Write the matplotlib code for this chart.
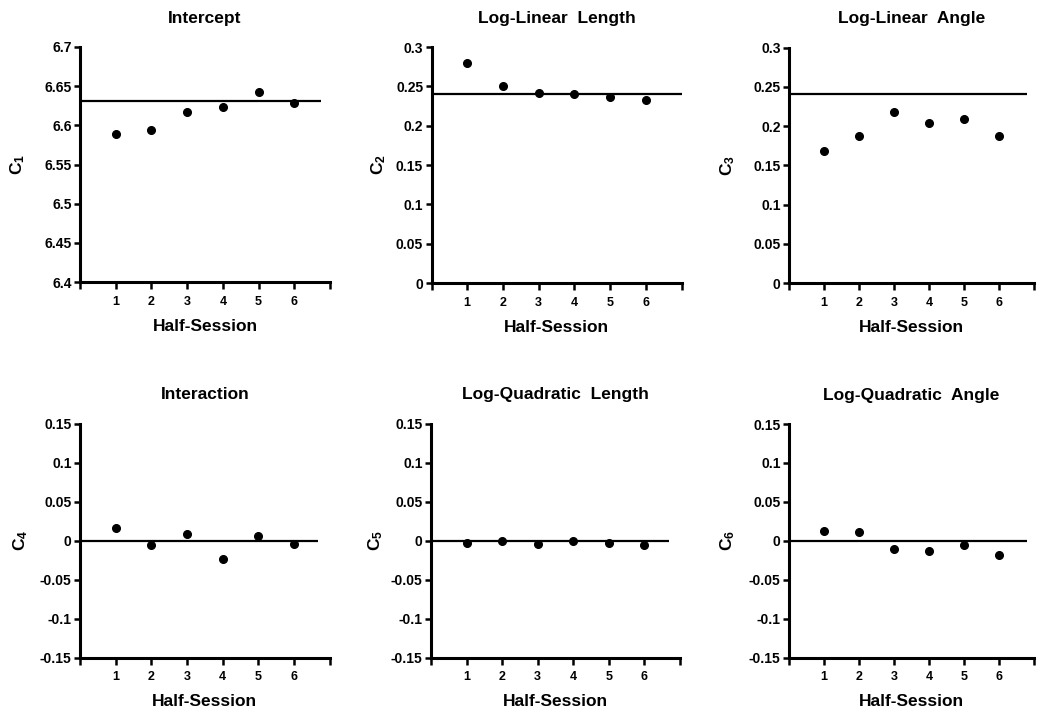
import matplotlib
matplotlib.use("Agg")
import matplotlib.pyplot as plt
from matplotlib.ticker import FuncFormatter, FixedLocator

plt.rcParams["font.family"] = ["Liberation Sans", "DejaVu Sans"]
plt.rcParams["font.weight"] = "bold"
plt.rcParams["mathtext.fontset"] = "custom"
plt.rcParams["mathtext.rm"] = "Liberation Sans:bold"
plt.rcParams["mathtext.it"] = "Liberation Sans:bold"
plt.rcParams["mathtext.bf"] = "Liberation Sans:bold"

half_session = [1, 2, 3, 4, 5, 6]

titles = ["Intercept", "Log-Linear  Length", "Log-Linear  Angle",
          "Interaction", "Log-Quadratic  Length", "Log-Quadratic  Angle"]
ylabels = [r"C$_1$", r"C$_2$", r"C$_3$", r"C$_4$", r"C$_5$", r"C$_6$"]

c1 = [6.589, 6.5945, 6.6175, 6.624, 6.6425, 6.628]
c2 = [0.280, 0.2498, 0.2417, 0.240, 0.2366, 0.2328]
c3 = [0.1685, 0.1876, 0.218, 0.2037, 0.209, 0.1876]
c4 = [0.0154, -0.0064, 0.0085, -0.0239, 0.0064, -0.0043]
c5 = [-0.0026, -0.001, -0.004, -0.001, -0.003, -0.0055]
c6 = [0.013, 0.011, -0.0107, -0.0137, -0.0056, -0.018]
series = [c1, c2, c3, c4, c5, c6]

# pooled estimate drawn as the horizontal reference line
pooled = [6.631, 0.2405, 0.241, 0.0, -0.0005, -0.0005]

y_ranges = [(6.4, 6.7), (0, 0.3), (0, 0.3),
            (-0.15, 0.15), (-0.15, 0.15), (-0.15, 0.15)]
y_ticks = [[6.4, 6.45, 6.5, 6.55, 6.6, 6.65, 6.7],
           [0, 0.05, 0.1, 0.15, 0.2, 0.25, 0.3],
           [0, 0.05, 0.1, 0.15, 0.2, 0.25, 0.3],
           [-0.15, -0.1, -0.05, 0, 0.05, 0.1, 0.15],
           [-0.15, -0.1, -0.05, 0, 0.05, 0.1, 0.15],
           [-0.15, -0.1, -0.05, 0, 0.05, 0.1, 0.15]]

W, H = 1037, 713
# axes boxes in pixels: left, right, top, bottom
boxes = [(80, 330, 47, 282), (431.5, 681.5, 47, 283), (789, 1034, 47.5, 283),
         (80, 329.5, 423.5, 657.5), (431, 680, 423.5, 657.5), (789, 1034, 424, 657.5)]
line_end = [6.75, 7.0, 6.8, 6.67, 6.7, 6.8]
ylabel_off = [-53, -43, -52, -50, -46, -52]

fig = plt.figure(figsize=(W / 100, H / 100), dpi=100)

for i in range(6):
    l, r, t, b = boxes[i]
    ax = fig.add_axes([l / W, 1 - b / H, (r - l) / W, (b - t) / H])
    ax.hlines(pooled[i], 0, line_end[i], color="black", lw=1.6, zorder=2)
    ax.plot(half_session, series[i], "o", color="black", ms=5.5, zorder=3)

    ax.set_xlim(0, 7)
    ax.set_ylim(*y_ranges[i])
    ax.xaxis.set_major_locator(FixedLocator(range(8)))
    ax.xaxis.set_major_formatter(FuncFormatter(lambda v, p: f"{int(v)}" if 1 <= v <= 6 else ""))
    ax.yaxis.set_major_locator(FixedLocator(y_ticks[i]))
    ax.yaxis.set_major_formatter(FuncFormatter(lambda v, p: f"{round(v, 3):g}"))

    for s in ["top", "right"]:
        ax.spines[s].set_visible(False)
    for s in ["left", "bottom"]:
        ax.spines[s].set_linewidth(2.2)
    ax.tick_params(axis="y", direction="out", width=1.8, length=4, labelsize=10, pad=2)
    ax.tick_params(axis="x", direction="out", width=1.8, length=5, labelsize=9, pad=5)
    for lab in ax.get_xticklabels() + ax.get_yticklabels():
        lab.set_fontweight("bold")

    ax.set_title(titles[i], fontsize=12.5, fontweight="bold", pad=17.5)
    ax.set_xlabel("Half-Session", fontsize=12.5, fontweight="bold", labelpad=8)
    ax.set_ylabel(ylabels[i], fontsize=12.5, fontweight="bold")
    ax.yaxis.set_label_coords(ylabel_off[i] / (r - l), 0.5)

fig.savefig("out.png", dpi=100)
